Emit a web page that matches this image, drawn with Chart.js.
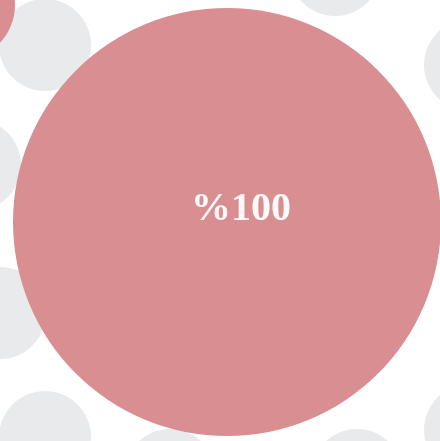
<!DOCTYPE html>
<html>
<head>
<meta charset="utf-8">
<script src="https://cdn.jsdelivr.net/npm/chart.js@4"></script>
<style>
html,body{margin:0;padding:0;background:#fff;}
#wrap{width:440px;height:441px;position:relative;}
</style>
</head>
<body>
<div id="wrap"><canvas id="c"></canvas></div>
<script>
// background (empty) bubbles
const grayX = [45, 335, 470, -25, 0, 45, 170, 357, 470];
const grayY = [45, -30, 65, 165, 313, 437, 475, 475, 430];
const grayR = [46, 46, 46, 46, 46, 46, 46, 46, 46];
// highlighted bubbles
const pinkX = [227, -40];
const pinkY = [222, 5];
const pinkR = [214, 55];
const pinkLabels = ["%100", ""];

const toPts = (xs, ys, rs) => xs.map((x, i) => ({x: x, y: ys[i], r: rs[i]}));

const labelPlugin = {
  id: 'lbl',
  afterDatasetsDraw(chart) {
    const ctx = chart.ctx;
    const meta = chart.getDatasetMeta(1);
    meta.data.forEach((el, i) => {
      const t = pinkLabels[i];
      if (!t) return;
      ctx.save();
      ctx.font = 'bold 40px "Liberation Serif", "DejaVu Serif", serif';
      ctx.fillStyle = 'rgba(255,255,255,0.95)';
      ctx.textAlign = 'center';
      ctx.textBaseline = 'middle';
      ctx.fillText(t, el.x + 14, el.y - 12);
      ctx.restore();
    });
  }
};

new Chart(document.getElementById('c'), {
  type: 'bubble',
  data: {
    datasets: [
      {data: toPts(grayX, grayY, grayR), backgroundColor: '#e9eaeb', borderWidth: 0, hoverBorderWidth: 0, clip: false, order: 2},
      {data: toPts(pinkX, pinkY, pinkR), backgroundColor: '#d98f91', borderWidth: 0, hoverBorderWidth: 0, clip: false, order: 1}
    ]
  },
  options: {
    responsive: true,
    maintainAspectRatio: false,
    animation: false,
    layout: {padding: 0, autoPadding: false},
    plugins: {legend: {display: false}, tooltip: {enabled: false}},
    events: [],
    scales: {
      x: {type: 'linear', min: 0, max: 440, display: false},
      y: {type: 'linear', min: 0, max: 441, reverse: true, display: false}
    }
  },
  plugins: [labelPlugin]
});
</script>
</body>
</html>
